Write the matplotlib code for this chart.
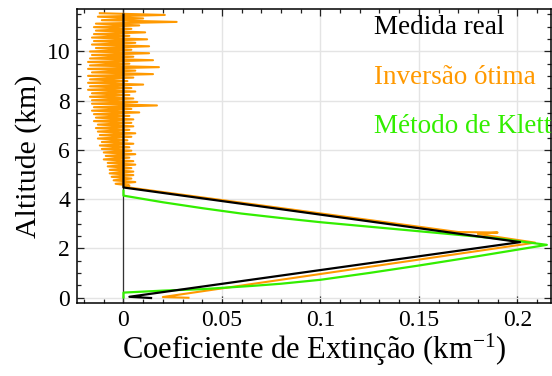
import numpy as np
import matplotlib
matplotlib.use("Agg")
import matplotlib.pyplot as plt
from matplotlib.ticker import MultipleLocator

plt.rcParams['font.family'] = ['Liberation Serif', 'DejaVu Serif']
plt.rcParams['mathtext.fontset'] = 'custom'
plt.rcParams['mathtext.rm'] = 'Liberation Serif'
plt.rcParams['mathtext.it'] = 'Liberation Serif:italic'

# Measured profile (km^-1 vs km)
medida_x = [0.0, 0.0, 0.2014, 0.003, 0.014]
medida_alt = [11.5, 4.47, 2.25, 0.03, -0.02]

# Optimal inversion: noisy retrieval above the layer ...
otima_ruido_x = [
    -0.012, 0.021, -0.013, 0.010, -0.011, 0.027, -0.014, 0.008,
    -0.015, 0.004, -0.014, 0.011, -0.015, 0.003, -0.016, 0.012, -0.015, 0.006, -0.016, 0.013, -0.014, 0.004,
    -0.017, 0.013, -0.016, 0.005, -0.017, 0.015, -0.018, 0.003, -0.017, 0.018, -0.018, 0.006, -0.016, 0.015,
    -0.018, 0.005, -0.017, 0.002, -0.018, 0.010, -0.017, 0.004, -0.018, 0.006, -0.016, 0.003, -0.017, 0.005,
    -0.016, 0.007, -0.016, 0.017, -0.015, 0.004, -0.016, 0.008, -0.015, 0.003, -0.014, 0.005, -0.015, 0.004,
    -0.013, 0.005, -0.014, 0.003, -0.013, 0.006, -0.012, 0.004, -0.013, 0.002, -0.011, 0.005, -0.012, 0.003,
    -0.011, 0.004, -0.010, 0.006, -0.009, 0.003, -0.010, 0.005, -0.008, 0.006, -0.008, 0.004, -0.007, 0.005,
    -0.007, 0.005, -0.006, 0.004, -0.005, 0.006, -0.004, 0.003,
]
otima_ruido_alt = np.linspace(11.55, 4.55, len(otima_ruido_x))
# ... and the aerosol layer itself
otima_camada_x = [0.0, 0.17, 0.19, 0.18, 0.209, 0.02, 0.033]
otima_camada_alt = [4.5, 2.66, 2.64, 2.58, 2.23, 0.02, -0.01]

# Klett method
klett_x = [0.0, 0.0, 0.02, 0.04, 0.06, 0.08, 0.1, 0.13, 0.16, 0.19, 0.215,
           0.18, 0.15, 0.125, 0.1, 0.08, 0.065, 0.04, 0.02, 0.0, 0.0]
klett_alt = [4.34, 4.14, 3.87, 3.63, 3.41, 3.23, 3.06, 2.84, 2.62, 2.4, 2.14,
             1.68, 1.3, 1.0, 0.72, 0.56, 0.47, 0.34, 0.28, 0.2, 0.0]

nomes = ['Medida real', 'Inversão ótima', 'Método de Klett']
cores = ['black', '#ff9900', '#33ee00']

otima_x = np.concatenate([otima_ruido_x, otima_camada_x])
otima_alt = np.concatenate([otima_ruido_alt, otima_camada_alt])

fig = plt.figure(figsize=(5.52, 3.76), dpi=100)
ax = fig.add_axes([0.1395, 0.193, 0.859, 0.783])

ax.axvline(0, color='#333333', lw=0.9, zorder=1)
ax.plot(otima_x, otima_alt, color=cores[1], lw=1.5, zorder=2)
ax.plot(klett_x, klett_alt, color=cores[2], lw=1.6, zorder=3)
ax.plot(medida_x, medida_alt, color=cores[0], lw=1.6, zorder=4)

ax.set_xlim(-0.0236, 0.2172)
ax.set_ylim(-0.24, 11.72)
ax.xaxis.set_major_locator(MultipleLocator(0.05))
ax.xaxis.set_minor_locator(MultipleLocator(0.01))
ax.yaxis.set_major_locator(MultipleLocator(2))
ax.yaxis.set_minor_locator(MultipleLocator(0.5))
ax.set_xticks([0, 0.05, 0.1, 0.15, 0.2])
ax.set_xticklabels(['0', '0.05', '0.1', '0.15', '0.2'])
ax.grid(True, which='major', color='#e4e4e4', lw=1.0, zorder=0)
ax.set_axisbelow(True)

ax.tick_params(which='both', direction='in', top=True, right=True,
               labelsize=17, width=0.9, color='#222222')
ax.tick_params(which='major', length=5, pad=5)
ax.tick_params(which='minor', length=3)
for s in ax.spines.values():
    s.set_linewidth(1.1)

ax.set_xlabel('Coeficiente de Extinção (km$^{-1}$)', fontsize=22, labelpad=0)
ax.set_ylabel('Altitude (km)', fontsize=21.5, labelpad=3)

for i, (nome, cor) in enumerate(zip(nomes, cores)):
    ax.text(0.627, 0.936 - 0.168 * i, nome, color=cor, fontsize=19.5,
            transform=ax.transAxes, ha='left', va='center', clip_on=False)

fig.savefig('out.png', dpi=100)
